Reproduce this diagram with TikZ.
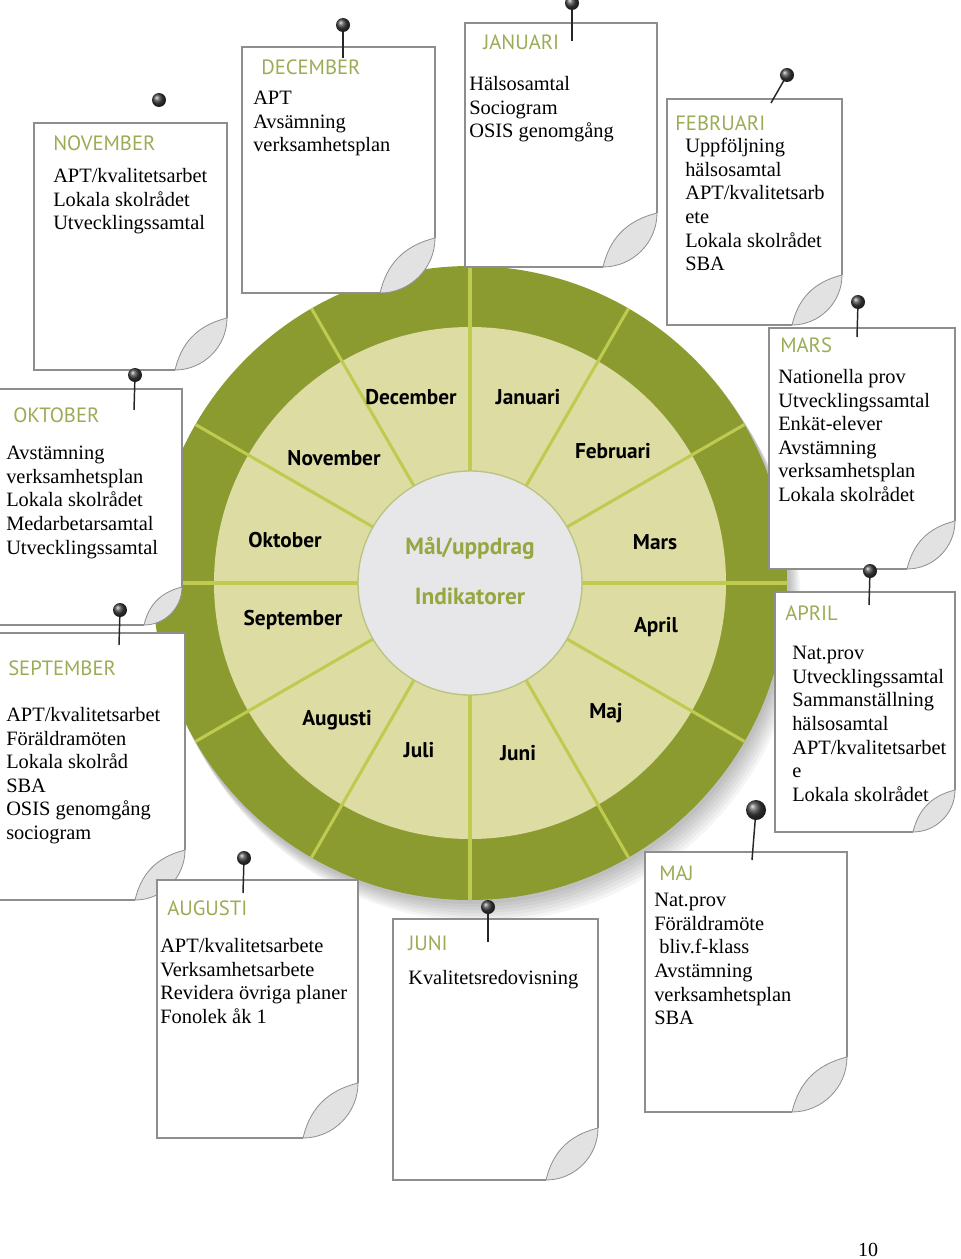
\documentclass[tikz,border=0pt]{standalone}
\usepackage{fontspec}
\setmainfont{Liberation Serif}
\setsansfont{PT Sans}
\usetikzlibrary{calc}
\definecolor{ringdark}{HTML}{8B9B2F}
\definecolor{ringlight}{HTML}{DDDCA3}
\definecolor{hubgrey}{HTML}{E7E7E9}
\definecolor{spoke}{HTML}{BFCB50}
\definecolor{headgreen}{HTML}{9AAC55}
\definecolor{hubtext}{HTML}{95A740}
\definecolor{paperedge}{HTML}{8E8E8E}
\definecolor{curl}{HTML}{E2E2E2}
\tikzset{
    notetext/.style = {
        anchor=north west,
        inner sep=0pt,
        align=left,
        font=\fontsize{15.3}{17.7}\selectfont
    },
    notehead/.style = {
        anchor=west,
        inner sep=0pt,
        text=headgreen,
        font=\sffamily\fontsize{15.5}{18}\selectfont
    },
    month/.style = {
        inner sep=0pt,
        font=\sffamily\bfseries\fontsize{16}{19}\selectfont
    },
    hub/.style = {
        inner sep=0pt,
        text=hubtext,
        font=\sffamily\bfseries\fontsize{17.5}{20}\selectfont
    },
    spokeline/.style = {
        draw=spoke,
        line width=2.3pt
    },
    needle/.style = {
        line width=1.1pt,
        black!85
    },
}
% page with curled corner: left, top, right, bottom, curl size
\newcommand\drawnote[5]{%
    \fill[white] (#1,#2) -- (#3,#2) -- (#3,{#4-#5}) .. controls (#3,{#4-0.45*#5}) and ({#3-0.45*#5},#4) .. ({#3-#5},#4) -- (#1,#4) -- cycle;
    \draw[paperedge, line width=0.8pt] ({#3-#5},#4) -- (#1,#4) -- (#1,#2) -- (#3,#2) -- (#3,{#4-#5});
    \filldraw[fill=curl, draw=paperedge, line width=0.6pt] (#3,{#4-#5}) .. controls (#3,{#4-0.45*#5}) and ({#3-0.45*#5},#4) .. ({#3-#5},#4) .. controls ({#3-0.88*#5},{#4-0.5*#5}) and ({#3-0.6*#5},{#4-0.85*#5}) .. cycle;
}
% pin: ball x, ball y, tip x, tip y, radius
\newcommand\drawpin[5]{%
    \draw[needle] (#1,#2) -- (#3,#4);
    \shade[ball color=black!75] (#1,#2) circle (#5);
}
\begin{document}
\begin{tikzpicture}[x=0.75pt,y=-0.75pt]
            \useasboundingbox (0,0) rectangle (960,1259);
            \clip (0,0) rectangle (960,1259);

            % wheel
            \coordinate (hubc) at (470,583);
            \foreach \d in {3,6,...,21}
                \fill[black,opacity=.04] ($(hubc)+(0.6*\d,\d)$) circle (318);
            \fill[ringdark] (hubc) circle (317);
            \fill[ringlight] (hubc) circle (256);
            \foreach \a in {0,30,...,330}
                \draw[spokeline] ($(hubc)+(\a:110)$) -- ($(hubc)+(\a:317)$);
            \filldraw[fill=hubgrey, draw=ringdark!60, line width=1pt] (hubc) circle (112);

            \node[hub] (goal) at (470,548) {Mål/uppdrag};
            \node[hub] (indic) at (470,596) {Indikatorer};

            \node[month] (mdec) at (411,397) {December};
            \node[month] (mjan) at (528,397) {Januari};
            \node[month] (mfeb) at (613,451) {Februari};
            \node[month] (mmar) at (655,542) {Mars};
            \node[month] (mapr) at (656,627) {April};
            \node[month] (mmaj) at (606,713) {Maj};
            \node[month] (mjun) at (518,753) {Juni};
            \node[month] (mjul) at (419,750) {Juli};
            \node[month] (maug) at (337,720) {Augusti};
            \node[month] (msep) at (293,620) {September};
            \node[month] (mokt) at (285,540) {Oktober};
            \node[month] (mnov) at (334,458) {November};

            % notes
            \drawnote{34}{123}{227}{370}{52}
            \drawnote{242}{47}{435}{293}{55}
            \drawnote{465}{23}{657}{267}{54}
            \drawnote{667}{99}{842}{325}{50}
            \drawnote{769}{328}{955}{569}{48}
            \drawnote{775}{592}{955}{832}{42}
            \drawnote{-3}{389}{182}{625}{38}
            \drawnote{-3}{633}{185}{900}{50}
            \drawnote{157}{880}{358}{1138}{55}
            \drawnote{393}{919}{598}{1180}{52}
            \drawnote{645}{852}{847}{1112}{55}

            \node[notehead] (hnov) at (53,143) {NOVEMBER};
            \node[notetext] (tnov) at (53,168) {APT/kvalitetsarbet\\Lokala skolrådet\\Utvecklingssamtal};

            \node[notehead] (hdec) at (261,67) {DECEMBER};
            \node[notetext] (tdec) at (253,91) {APT\\Avsämning\\verksamhetsplan};

            \node[notehead] (hjan) at (483,42) {JANUARI};
            \node[notetext] (tjan) at (469,76) {Hälsosamtal\\Sociogram\\OSIS genomgång};

            \node[notehead] (hfeb) at (675,123) {FEBRUARI};
            \node[notetext] (tfeb) at (685,138) {Uppföljning\\hälsosamtal\\APT/kvalitetsarb\\ete\\Lokala skolrådet\\SBA};

            \node[notehead] (hmar) at (780,345) {MARS};
            \node[notetext] (tmar) at (778,369) {Nationella prov\\Utvecklingssamtal\\Enkät-elever\\Avstämning\\verksamhetsplan\\Lokala skolrådet};

            \node[notehead] (hapr) at (785,613) {APRIL};
            \node[notetext] (tapr) at (792,646) {Nat.prov\\Utvecklingssamtal\\Sammanställning\\hälsosamtal\\APT/kvalitetsarbet\\e\\Lokala skolrådet};

            \node[notehead] (hokt) at (13,415) {OKTOBER};
            \node[notetext] (tokt) at (6,446) {Avstämning\\verksamhetsplan\\Lokala skolrådet\\Medarbetarsamtal\\Utvecklingssamtal};

            \node[notehead] (hsep) at (8,668) {SEPTEMBER};
            \node[notetext] (tsep) at (6,707) {APT/kvalitetsarbet\\Föräldramöten\\Lokala skolråd\\SBA\\OSIS genomgång\\sociogram};

            \node[notehead] (haug) at (167,908) {AUGUSTI};
            \node[notetext] (taug) at (160,938) {APT/kvalitetsarbete\\Verksamhetsarbete\\Revidera övriga planer\\Fonolek åk 1};

            \node[notehead] (hjun) at (408,943) {JUNI};
            \node[notetext] (tjun) at (408,970) {Kvalitetsredovisning};

            \node[notehead] (hmaj) at (659,873) {MAJ};
            \node[notetext] (tmaj) at (654,893) {Nat.prov\\Föräldramöte\\\hspace*{0.25em}bliv.f-klass\\Avstämning\\verksamhetsplan\\SBA};

            % pins
            \drawpin{159}{100}{159}{100}{7}
            \drawpin{343}{25}{343}{58}{7}
            \drawpin{572}{3}{572}{41}{7}
            \drawpin{787}{75}{771}{103}{7}
            \drawpin{858}{302}{857}{337}{7}
            \drawpin{870}{571}{869}{605}{7}
            \drawpin{135}{375}{134}{410}{7}
            \drawpin{120}{610}{119}{645}{7}
            \drawpin{244}{858}{243}{893}{7}
            \drawpin{488}{907}{488}{942}{7}
            \drawpin{756}{810}{752}{860}{10}

            \node[inner sep=0pt, font=\fontsize{15}{18}\selectfont] (pagenum) at (868,1250) {10};
        \end{tikzpicture}
\end{document}
